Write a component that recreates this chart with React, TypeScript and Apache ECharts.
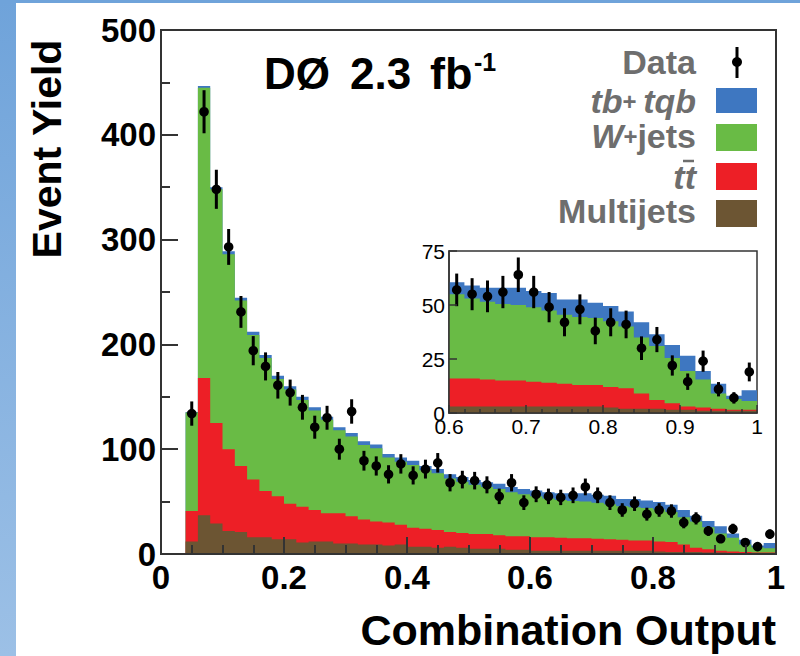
import React, { useEffect, useRef } from "react";
import * as echarts from "echarts";

// Histogram bin lower edges (bin width 0.02)
const binLow = [0.04, 0.06, 0.08, 0.10, 0.12, 0.14, 0.16, 0.18, 0.20, 0.22, 0.24, 0.26, 0.28, 0.30, 0.32, 0.34, 0.36, 0.38, 0.40, 0.42, 0.44, 0.46, 0.48, 0.50, 0.52, 0.54, 0.56, 0.58, 0.60, 0.62, 0.64, 0.66, 0.68, 0.70, 0.72, 0.74, 0.76, 0.78, 0.80, 0.82, 0.84, 0.86, 0.88, 0.90, 0.92, 0.94, 0.96, 0.98];
const binWidth = 0.02;

// Background components (stacked bottom to top)
const multijets = [12, 37, 29, 22, 21, 16, 16, 14, 14, 11, 12, 12, 10, 10, 9, 9, 8, 9, 7, 7, 6, 7, 6, 5, 5, 5, 4, 4, 3, 3, 3, 3, 3, 3, 3, 3, 3, 3, 2.5, 2, 2, 2, 1.5, 1.5, 1, 1, 1, 1];
const ttbar = [29, 131, 96, 78, 63, 55, 44, 41, 34, 34, 30, 27, 29, 26, 24, 22, 22, 19, 18, 17, 17, 14, 14, 14, 14, 13, 13, 13, 13, 13, 12.5, 12, 12, 11.5, 11, 10.5, 10, 10, 9.5, 9.5, 7, 4, 3, 1.5, 1.5, 1, 0.5, 0.5];
const wjets = [94, 277, 223, 186, 158, 138, 127, 112, 109, 102, 95, 89, 79, 76, 71, 70, 62, 60, 60, 56, 54, 51, 49, 47, 45, 44, 42, 40, 39, 37, 36, 35.5, 35, 34.5, 33.5, 32, 31.5, 31, 30.5, 28.5, 26, 25, 21, 16.5, 13, 7, 5, 4];
const signal = [0.5, 1.5, 2, 3, 2.5, 3, 3, 3, 3, 3, 3, 3, 3, 3.5, 3.5, 3.5, 3.5, 4, 4, 4, 4, 4, 4.5, 4.5, 4.5, 5, 5, 5, 5.5, 6, 6.5, 7.5, 8, 7.5, 8, 7, 8, 7, 7, 7, 7, 5.5, 6, 7, 4, 4.5, 1.5, 5];

// Observed data (bin centres)
const dataX = [0.05, 0.07, 0.09, 0.11, 0.13, 0.15, 0.17, 0.19, 0.21, 0.23, 0.25, 0.27, 0.29, 0.31, 0.33, 0.35, 0.37, 0.39, 0.41, 0.43, 0.45, 0.47, 0.49, 0.51, 0.53, 0.55, 0.57, 0.59, 0.61, 0.63, 0.65, 0.67, 0.69, 0.71, 0.73, 0.75, 0.77, 0.79, 0.81, 0.83, 0.85, 0.87, 0.89, 0.91, 0.93, 0.95, 0.97, 0.99];
const dataY = [134, 422, 348, 293, 231, 194, 179, 161, 154, 140, 121, 130, 100, 136, 89, 84, 76, 86, 75, 81, 87, 68, 71, 70, 66, 55, 68, 49, 57, 55, 54, 56, 64, 56, 49, 42, 48, 38, 42, 41, 30, 34, 22, 14.5, 24, 11, 7, 19];

const BLUE = "#3e77c1";
const GREEN = "#69bb45";
const RED = "#ed1f26";
const BROWN = "#6c5533";
const AXIS = "#333333";
const GRAY = "#6e6e6e";
const FONT = "'Liberation Sans', Arial, Helvetica, sans-serif";

const components = [
  { name: "Multijets", values: multijets, color: BROWN },
  { name: "ttbar", values: ttbar, color: RED },
  { name: "W+jets", values: wjets, color: GREEN },
  { name: "tb+tqb", values: signal, color: BLUE },
];

// cumulative stacks: each layer drawn from 0 up to its cumulative top
function buildStack() {
  const base = binLow.map(() => 0);
  return components.map((c) => {
    const rows = binLow.map((x, i) => {
      base[i] += c.values[i];
      return [x, x + binWidth, base[i]];
    });
    return { ...c, rows };
  });
}

const stepRender = (color: string, rows: number[][]) => (params: any, api: any) => {
  if (params.dataIndex !== 0) return null;
  const top: number[][] = [];
  rows.forEach((r) => {
    top.push(api.coord([r[0], r[2]]));
    top.push(api.coord([r[1], r[2]]));
  });
  const last = rows[rows.length - 1];
  const first = rows[0];
  const pts = [...top, api.coord([last[1], 0]), api.coord([first[0], 0])];
  return {
    type: "polygon",
    shape: { points: pts },
    style: { fill: color },
  };
};

const pointRender = (r: number, w: number) => (params: any, api: any) => {
  const x = api.value(0);
  const y = api.value(1);
  const e = Math.sqrt(y);
  const top = api.coord([x, y + e]);
  const bot = api.coord([x, Math.max(0, y - e)]);
  const c = api.coord([x, y]);
  return {
    type: "group",
    children: [
      { type: "line", shape: { x1: top[0], y1: top[1], x2: bot[0], y2: bot[1] }, style: { stroke: "#000", lineWidth: w } },
      { type: "circle", shape: { cx: c[0], cy: c[1], r }, style: { fill: "#000" } },
    ],
  };
};

function axisCommon(tickLen: number, width: number) {
  return {
    type: "value",
    z: 10,
    axisLine: { show: true, onZero: false, lineStyle: { color: AXIS, width } },
    axisTick: { show: true, inside: true, length: tickLen, lineStyle: { color: AXIS, width } },
    splitLine: { show: false },
    minorSplitLine: { show: false },
  };
}

export default function App() {
  const ref = useRef<HTMLDivElement>(null);
  useEffect(() => {
    if (!ref.current) return;
    const chart = echarts.init(ref.current, undefined, { renderer: "svg" });
    const stack = buildStack();
    const series: any[] = [];
    [0, 1].forEach((g) => {
      // draw the tallest cumulative layer first so lower layers cover it
      [...stack].reverse().forEach((c) => {
        const rows = g === 1 ? c.rows.filter((r) => r[0] >= 0.599) : c.rows;
        series.push({
          type: "custom",
          name: c.name,
          xAxisIndex: g,
          yAxisIndex: g,
          clip: true,
          silent: true,
          renderItem: stepRender(c.color, rows),
          encode: { x: [0, 1], y: 2 },
          data: rows,
        });
      });
      const pts = dataX.map((x, i) => [x, dataY[i]]);
      series.push({
        type: "custom",
        name: "Data",
        xAxisIndex: g,
        yAxisIndex: g,
        clip: true,
        silent: true,
        z: 5,
        renderItem: pointRender(4.8, 3),
        encode: { x: 0, y: 1 },
        data: g === 1 ? pts.filter((p) => p[0] >= 0.6) : pts,
      });
    });

    const xFmt = (v: number) => (Math.abs(v) < 1e-9 ? "0" : Math.abs(v - 1) < 1e-9 ? "1" : v.toFixed(1));

    const legendRows = [
      { rich: "{i|tb}{p|+ }{i|tqb}", y: 101, color: BLUE, boxY: 88, boxH: 25 },
      { rich: "{i|W}{p|+}{n|jets}", y: 136, color: GREEN, boxY: 124, boxH: 27 },
      { rich: "{i|tt}", y: 177, color: RED, boxY: 163, boxH: 27 },
      { rich: "{n|Multijets}", y: 211, color: BROWN, boxY: 200, boxH: 27 },
    ];
    const richStyles = {
      i: { fontSize: 34, fontWeight: "bold", fontStyle: "italic", fill: GRAY, fontFamily: FONT, lineHeight: 30 },
      n: { fontSize: 34, fontWeight: "bold", fill: GRAY, fontFamily: FONT, lineHeight: 30 },
      p: { fontSize: 24, fontWeight: "bold", fill: GRAY, fontFamily: FONT, lineHeight: 30 },
    };

    const gradient = new echarts.graphic.LinearGradient(0, 0, 0, 1, [
      { offset: 0, color: "#6fa3da" },
      { offset: 1, color: "#9cc0e6" },
    ]);

    const bigText = (text: string, x: number, y: number, size: number, align: string, extra: any = {}) => ({
      type: "text",
      x,
      y,
      ...extra,
      style: { text, fontSize: size, fontWeight: "bold", fontFamily: FONT, fill: "#000", align, verticalAlign: "middle" },
    });

    const graphic: any[] = [
      { type: "rect", shape: { x: 0, y: 0, width: 16, height: 656 }, style: { fill: gradient }, silent: true },
      { type: "rect", shape: { x: 0, y: 0, width: 800, height: 3 }, style: { fill: "#6fa3da" }, silent: true },
      bigText("Event Yield", 47, 149, 41, "center", { rotation: Math.PI / 2 }),
      bigText("Combination Output", 776, 630, 43, "right"),
      bigText("DØ", 264, 73, 44, "left"),
      bigText("2.3", 350, 73, 44, "left"),
      bigText("fb", 430, 73, 45, "left"),
      bigText("-1", 474, 62, 25, "left"),
      {
        type: "text",
        x: 696,
        y: 62,
        style: { text: "Data", fontSize: 34, fontWeight: "bold", fontFamily: FONT, fill: GRAY, align: "right", verticalAlign: "middle" },
      },
      { type: "line", shape: { x1: 737, y1: 47, x2: 737, y2: 78 }, style: { stroke: "#000", lineWidth: 3 } },
      { type: "circle", shape: { cx: 737, cy: 62, r: 5 }, style: { fill: "#000" } },
      { type: "line", shape: { x1: 683, y1: 161, x2: 694, y2: 161 }, style: { stroke: GRAY, lineWidth: 2.5 } },
    ];
    legendRows.forEach((r) => {
      graphic.push({
        type: "text",
        x: 696,
        y: r.y,
        style: { text: r.rich, rich: richStyles, align: "right", verticalAlign: "middle", fontFamily: FONT },
      });
      graphic.push({ type: "rect", shape: { x: 716, y: r.boxY, width: 41, height: r.boxH }, style: { fill: r.color } });
    });

    chart.setOption({
      animation: false,
      backgroundColor: "#ffffff",
      textStyle: { fontFamily: FONT },
      grid: [
        { left: 161, top: 30, width: 615, height: 524, show: true, borderColor: AXIS, borderWidth: 2, backgroundColor: "transparent" },
        { left: 449, top: 251, width: 308, height: 162, show: true, borderColor: AXIS, borderWidth: 1.5, backgroundColor: "#fff" },
      ],
      xAxis: [
        {
          ...axisCommon(17, 2),
          gridIndex: 0,
          min: 0,
          max: 1,
          interval: 0.2,
          minorTick: { show: true, splitNumber: 4, length: 9, lineStyle: { color: AXIS, width: 2 } },
          axisLabel: { color: "#000", fontSize: 33, fontWeight: "bold", fontFamily: FONT, margin: 7, formatter: xFmt },
        },
        {
          ...axisCommon(8, 1.5),
          gridIndex: 1,
          min: 0.6,
          max: 1,
          interval: 0.1,
          minorTick: { show: true, splitNumber: 5, length: 4, lineStyle: { color: AXIS, width: 1.5 } },
          axisLabel: { color: "#000", fontSize: 21, fontFamily: FONT, margin: 3, formatter: xFmt },
        },
      ],
      yAxis: [
        {
          ...axisCommon(17, 2),
          gridIndex: 0,
          min: 0,
          max: 500,
          interval: 100,
          minorTick: { show: true, splitNumber: 2, length: 9, lineStyle: { color: AXIS, width: 2 } },
          axisLabel: { color: "#000", fontSize: 33, fontWeight: "bold", fontFamily: FONT, margin: 5 },
        },
        {
          ...axisCommon(8, 1.5),
          gridIndex: 1,
          min: 0,
          max: 75,
          interval: 25,
          minorTick: { show: false },
          axisLabel: { color: "#000", fontSize: 21, fontFamily: FONT, margin: 4 },
        },
      ],
      series,
      graphic,
    });
    return () => chart.dispose();
  }, []);
  return <div ref={ref} style={{ position: "fixed", left: 0, top: 0, width: 800, height: 656, background: "#fff" }} />;
}
